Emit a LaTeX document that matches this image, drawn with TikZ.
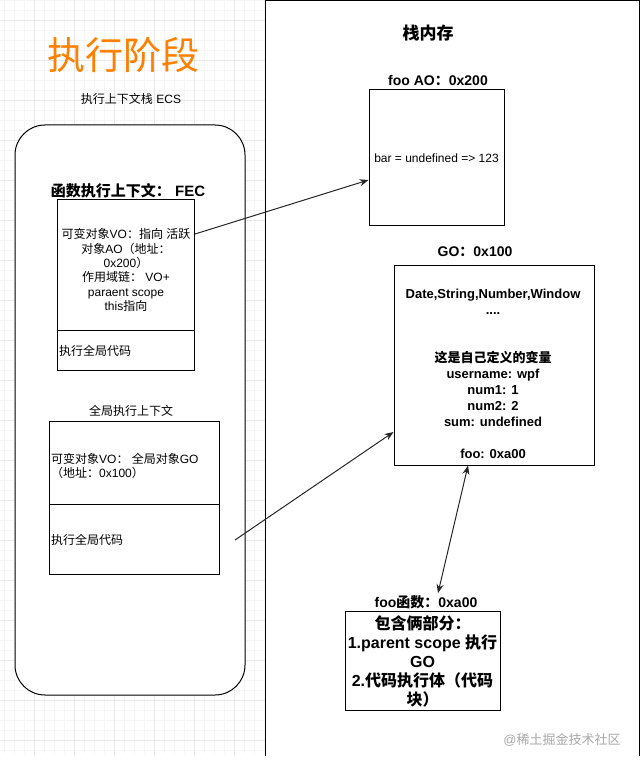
\documentclass[tikz,border=0pt]{standalone}
\usepackage{fontspec}
\setmainfont{Liberation Sans}
\newfontfamily\cjk{Noto Sans CJK SC}
\usetikzlibrary{arrows.meta}
\definecolor{orangeT}{HTML}{FF8000}
\definecolor{gridminor}{HTML}{F6F6F6}
\definecolor{gridmajor}{HTML}{E8E8E8}
\definecolor{wmgray}{HTML}{A8A8A8}
% automatic switching between Latin and CJK fonts
\XeTeXinterchartokenstate=1
\newXeTeXintercharclass\CJKcls
\newcount\cjkc
\cjkc="2E80
\loop\ifnum\cjkc<"A000 \XeTeXcharclass\cjkc=\CJKcls \advance\cjkc by 1 \repeat
\cjkc="FF00
\loop\ifnum\cjkc<"FFF0 \XeTeXcharclass\cjkc=\CJKcls \advance\cjkc by 1 \repeat
\XeTeXinterchartoks 0 \CJKcls = {\cjk}
\XeTeXinterchartoks 4095 \CJKcls = {\cjk}
\XeTeXinterchartoks \CJKcls 0 = {\rmfamily}
\XeTeXinterchartoks \CJKcls 4095 = {\rmfamily}
\begin{document}
\begin{tikzpicture}[x=1pt,y=-1pt,
  box/.style={draw=black, line width=1pt, fill=white, inner sep=0},
  txtA/.style={inner sep=0, font=\fontsize{12}{14.3}\selectfont},
  boldA/.style={inner sep=0, font=\bfseries\fontsize{#1}{#1}\selectfont},
  conn/.style={draw=black!85, line width=1pt, -{Stealth[length=9pt,width=7pt,inset=3pt]}},
  minorline/.style={draw=gridminor, line width=0.7pt},
  majorline/.style={draw=gridmajor, line width=0.8pt}]
\useasboundingbox (0,0) rectangle (642,767);
\fill[white] (0,0) rectangle (642,767);
% grid
\foreach \x in {4,14,...,264} \draw[minorline] (\x,0) -- (\x,755);
\foreach \y in {0,10,...,750} \draw[minorline] (0,\y) -- (265,\y);
\foreach \x in {34,74,...,234} \draw[majorline] (\x,0) -- (\x,755);
\foreach \y in {20,60,...,740} \draw[majorline] (0,\y) -- (265,\y);
% stack memory frame
\fill[white] (265,0) rectangle (639,756);
\draw[line width=1pt] (265,756) -- (265,0.5) -- (639,0.5) -- (639,756);

% left side
\node[inner sep=0, text=orangeT, font=\fontsize{38}{40}\selectfont] (title) at (123,55) {执行阶段};
\node[txtA] (ecslbl) at (131,99) {执行上下文栈 ECS};
\node[box, rounded corners=30pt, minimum width=230, minimum height=570] (ecs) at (130,410) {};
\node[boldA=15] (feclbl) at (128,191) {函数执行上下文： FEC};
\node[box, minimum width=137, minimum height=130] (fectop) at (126,265) {};
\node[box, minimum width=137, minimum height=40] (fecbot) at (126,350) {};
\node[txtA, align=center] (fectxt) at (126,270) {可变对象VO：指向 活跃\\对象AO（地址：\\0x200）\\作用域链： VO+\\paraent scope\\this指向};
\node[txtA, anchor=west] (fecbottxt) at (59,351) {执行全局代码};
\node[txtA] (geclbl) at (131,411) {全局执行上下文};
\node[box, minimum width=170, minimum height=83] (gectop) at (134.5,462.5) {};
\node[box, minimum width=170, minimum height=70] (gecbot) at (134.5,539) {};
\node[txtA, align=left, anchor=west] (gectxt) at (51,466) {可变对象VO： 全局对象GO\\（地址：0x100）};
\node[txtA, anchor=west] (gecbottxt) at (51,540) {执行全局代码};

% right side
\node[boldA=17] (stack) at (428,33) {栈内存};
\node[boldA=14] (aolbl) at (438,81) {foo AO：0x200};
\node[box, minimum width=135, minimum height=135] (ao) at (436.5,157.5) {};
\node[txtA] (aotxt) at (436.5,158) {bar = undefined => 123};
\node[boldA=14] (golbl) at (475,252) {GO：0x100};
\node[box, minimum width=200, minimum height=200] (go) at (494,365) {};
\node[inner sep=0, align=center, font=\bfseries\fontsize{13}{16}\selectfont] (gotxt) at (493,374)
  {Date,String,Number,Window\\....\\[32pt]这是自己定义的变量\\username: wpf\\num1: 1\\num2: 2\\sum: undefined\\[16pt]foo: 0xa00};
\node[boldA=14] (foolbl) at (426,602) {foo函数：0xa00};
\node[box, minimum width=155, minimum height=99] (foo) at (422.5,660.5) {};
\node[inner sep=0, align=center, font=\bfseries\fontsize{16}{19}\selectfont] (footxt) at (422.5,661)
  {包含俩部分：\\1.parent scope 执行\\GO\\2.代码执行体（代码\\块）};
\node[inner sep=0, text=wmgray, font=\fontsize{13}{13}\selectfont] (wm) at (562,740) {@稀土掘金技术社区};

% connectors
\draw[conn] ([yshift=31pt]fectop.east) -- ([yshift=-22.5pt]ao.west);
\coordinate (a2s) at (235,540);
\draw[conn] (a2s) -- ([yshift=-67pt]go.west);
\draw[conn, {Stealth[length=9pt,width=7pt,inset=3pt]}-{Stealth[length=9pt,width=7pt,inset=3pt]}]
  ([xshift=-26pt]go.south) -- ([xshift=12pt,yshift=2pt]foolbl.north);
\end{tikzpicture}
\end{document}
